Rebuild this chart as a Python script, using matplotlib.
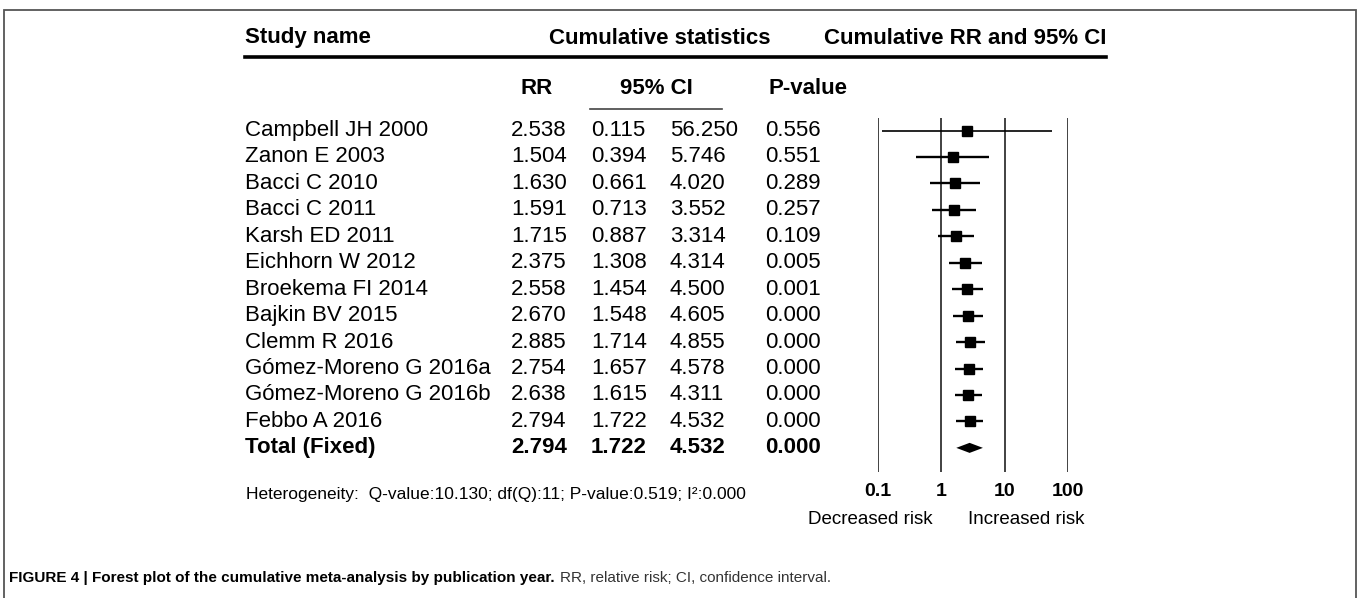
import numpy as np
import matplotlib
matplotlib.use("Agg")
from matplotlib import pyplot as plt
from matplotlib.transforms import blended_transform_factory
from matplotlib.patches import Rectangle

# data
studies = ["Campbell JH 2000", "Zanon E 2003", "Bacci C 2010", "Bacci C 2011",
           "Karsh ED 2011", "Eichhorn W 2012", "Broekema FI 2014", "Bajkin BV 2015",
           "Clemm R 2016", "Gómez-Moreno G 2016a", "Gómez-Moreno G 2016b",
           "Febbo A 2016", "Total (Fixed)"]
rr = [2.538, 1.504, 1.630, 1.591, 1.715, 2.375, 2.558, 2.670, 2.885, 2.754, 2.638, 2.794, 2.794]
ci_low = [0.115, 0.394, 0.661, 0.713, 0.887, 1.308, 1.454, 1.548, 1.714, 1.657, 1.615, 1.722, 1.722]
ci_high = [56.250, 5.746, 4.020, 3.552, 3.314, 4.314, 4.500, 4.605, 4.855, 4.578, 4.311, 4.532, 4.532]
p_values = [0.556, 0.551, 0.289, 0.257, 0.109, 0.005, 0.001, 0.000, 0.000, 0.000, 0.000, 0.000, 0.000]
ticks = [0.1, 1, 10, 100]
tick_labels = ["0.1", "1", "10", "100"]
heterogeneity = "Heterogeneity:  Q-value:10.130; df(Q):11; P-value:0.519; I²:0.000"

W, H = 1357, 598
plt.rcParams['font.family'] = ['Liberation Sans', 'DejaVu Sans']

def fx(px):
    return px / W

def fy(py):
    return 1 - py / H

fig = plt.figure(figsize=(W / 100, H / 100), dpi=100)

# forest plot axes, 0.1..100 on a log scale
ax = fig.add_axes([fx(878), fy(472), fx(1068) - fx(878), (472 - 118) / H])
ax.set_xscale("log")
ax.set_xlim(0.1, 100)
n = len(studies)
row_px = 27.4
top_row = (131 - 118) / row_px
ax.set_ylim(top_row + (n - 1) + (472 - 460) / row_px, -top_row)
ax.axis("off")

for t in ticks:
    ax.axvline(t, color="#333333", lw=1.3)

rows = np.arange(n)
for i in range(n - 1):
    ax.plot([ci_low[i], ci_high[i]], [rows[i], rows[i]], color="black",
            lw=1.2 if i == 0 else 1.7, solid_capstyle="butt")
    ax.plot(rr[i], rows[i], marker="s", color="black", markersize=7.5, linestyle="none")

# total diamond
h = 0.19
j = n - 1
ax.fill([ci_low[j], rr[j], ci_high[j], rr[j]], [j, j - h, j, j + h], color="black", lw=0)

# tick labels and risk labels
tr_x = blended_transform_factory(ax.transData, fig.transFigure)
for t, lab in zip(ticks, tick_labels):
    fig.text(t, fy(492), lab, transform=tr_x, ha="center", va="center",
             fontsize=14, fontweight="bold")
fig.text(fx(870), fy(520), "Decreased risk", ha="center", va="center", fontsize=13.5)
fig.text(fx(1026), fy(520), "Increased risk", ha="center", va="center", fontsize=13.5)

# table
fs = 16
cols = [245, 511, 591, 670, 765]
tr_y = blended_transform_factory(fig.transFigure, ax.transData)
for i in range(n):
    w = "bold" if i == n - 1 else "normal"
    vals = [studies[i], f"{rr[i]:.3f}", f"{ci_low[i]:.3f}", f"{ci_high[i]:.3f}", f"{p_values[i]:.3f}"]
    for c, v in zip(cols, vals):
        fig.text(fx(c), i, v, transform=tr_y, va="center", fontsize=fs, fontweight=w)

# headers
fig.text(fx(245), fy(38), "Study name", va="center", fontsize=16, fontweight="bold")
fig.text(fx(660), fy(38), "Cumulative statistics", ha="center", va="center", fontsize=16, fontweight="bold")
fig.text(fx(1106), fy(38), "Cumulative RR and 95% CI", ha="right", va="center", fontsize=16, fontweight="bold")
fig.add_artist(plt.Line2D([fx(245), fx(1106)], [fy(57), fy(57)], color="black", lw=2.6))
fig.text(fx(537), fy(88), "RR", ha="center", va="center", fontsize=16, fontweight="bold")
fig.text(fx(656), fy(88), "95% CI", ha="center", va="center", fontsize=16, fontweight="bold")
fig.add_artist(plt.Line2D([fx(590), fx(722)], [fy(109), fy(109)], color="#444444", lw=1.2))
fig.text(fx(768), fy(88), "P-value", va="center", fontsize=16, fontweight="bold")

fig.text(fx(246), fy(494), heterogeneity, va="center", fontsize=12.5)

# caption: bold lead-in followed by plain text
cap = fig.text(fx(9), fy(578), "FIGURE 4 | Forest plot of the cumulative meta-analysis by publication year.",
               va="center", fontsize=11, fontweight="bold")
renderer = fig.canvas.get_renderer()
bb = cap.get_window_extent(renderer)
fig.text((bb.x1 + 5) / W, fy(578), "RR, relative risk; CI, confidence interval.",
         va="center", fontsize=11, color="#333333")

# frame
fig.add_artist(Rectangle((fx(4), fy(620)), fx(1352), (620 - 10) / H, fill=False,
                         edgecolor="#555555", lw=1.3, transform=fig.transFigure))

fig.savefig("out.png", dpi=100)
